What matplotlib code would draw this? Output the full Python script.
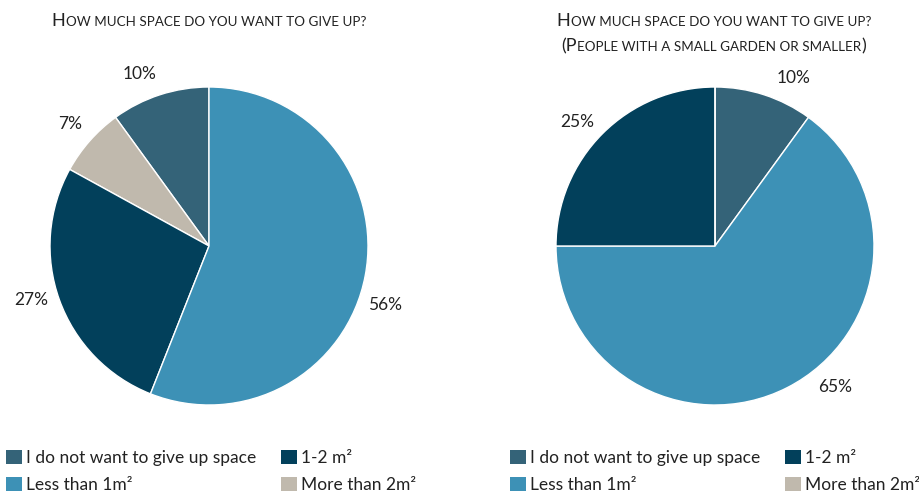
import numpy as np
import matplotlib
matplotlib.use("Agg")
import matplotlib.pyplot as plt
from matplotlib.offsetbox import TextArea, HPacker, AnnotationBbox
from matplotlib.patches import Patch

# Categories and colours
categories = ["I do not want to give up space", "1-2 m²", "Less than 1m²", "More than 2m²"]
colors = {
    "I do not want to give up space": "#346378",
    "1-2 m²": "#02405B",
    "Less than 1m²": "#3D91B6",
    "More than 2m²": "#C0B9AD",
}

# All respondents (drawn counter-clockwise from the top)
left_order = ["I do not want to give up space", "More than 2m²", "1-2 m²", "Less than 1m²"]
left_values = [10, 7, 27, 56]

# Small garden or smaller (drawn clockwise from the top)
right_order = ["I do not want to give up space", "Less than 1m²", "1-2 m²", "More than 2m²"]
right_values = [10, 65, 25, 0]

title_left = ["How much space do you want to give up?"]
title_right = ["How much space do you want to give up?",
               "(People with a small garden or smaller)"]

W, H = 920, 496
fig = plt.figure(figsize=(W / 100, H / 100), dpi=100)

TITLE_FONT = "Lato"
BODY_FONT = "Lato"
TEXT_COLOR = "#222222"


def fx(px):
    return px / W


def fy(py):
    return 1 - py / H


def small_caps(line, x, y, big=13, small=9.7):
    """Render a line in small caps: original capitals and punctuation at full size."""
    runs = []
    for ch in line:
        is_big = not ch.islower() and ch != " " and ch != "?"
        if ch == " ":
            is_big = runs[-1][0] if runs else False
        if runs and runs[-1][0] == is_big:
            runs[-1][1] += ch.upper()
        else:
            runs.append([is_big, ch.upper()])
    kids = [TextArea(t, textprops=dict(fontsize=big if b else small,
                                       family=TITLE_FONT, color=TEXT_COLOR))
            for b, t in runs]
    box = HPacker(children=kids, align="baseline", pad=0, sep=0)
    ab = AnnotationBbox(box, (fx(x), fy(y)), xycoords="figure fraction",
                        frameon=False, box_alignment=(0.5, 0.5), pad=0)
    fig.add_artist(ab)


def draw_pie(cx, cy, r, order, values, counterclock, label_shift):
    ax = fig.add_axes([fx(cx - r), fy(cy + r), 2 * r / W, 2 * r / H])
    wedges, _ = ax.pie(values, colors=[colors[c] for c in order],
                       startangle=90, counterclock=counterclock,
                       wedgeprops=dict(edgecolor="white", linewidth=1))
    ax.set_xlim(-1, 1)
    ax.set_ylim(-1, 1)
    ax.axis("off")
    total = sum(values)
    for w, v, s in zip(wedges, values, label_shift):
        if v == 0:
            continue
        mid = np.deg2rad((w.theta1 + w.theta2) / 2 + s)
        ax.text(1.165 * np.cos(mid), 1.165 * np.sin(mid), f"{round(100 * v / total)}%",
                ha="center", va="center", fontsize=12.5, family=BODY_FONT,
                color=TEXT_COLOR)
    return wedges


def column_legend(labels, x, y):
    handles = [Patch(facecolor=colors[c], edgecolor="none") for c in labels]
    fig.legend(handles, labels, loc="upper left", bbox_to_anchor=(fx(x), fy(y)),
               frameon=False, ncol=1, handlelength=0.9,
               handleheight=0.9, handletextpad=0.25, labelspacing=0.62,
               borderpad=0, borderaxespad=0,
               prop=dict(family=BODY_FONT, size=12.5), labelcolor=TEXT_COLOR)


# Left chart
small_caps(title_left[0], 209, 21)
draw_pie(209, 246, 159, left_order, left_values, True, [4, 0, -3, -7.7])
column_legend([categories[0], categories[2]], 6, 450)
column_legend([categories[1], categories[3]], 281, 450)

# Right chart
small_caps(title_right[0], 714, 21)
small_caps(title_right[1], 714, 46)
draw_pie(715, 246, 159, right_order, right_values, False, [-7, 13.6, 3, 0])
column_legend([categories[0], categories[2]], 510, 450)
column_legend([categories[1], categories[3]], 785, 450)

fig.savefig("out.png", dpi=100, facecolor="white")
